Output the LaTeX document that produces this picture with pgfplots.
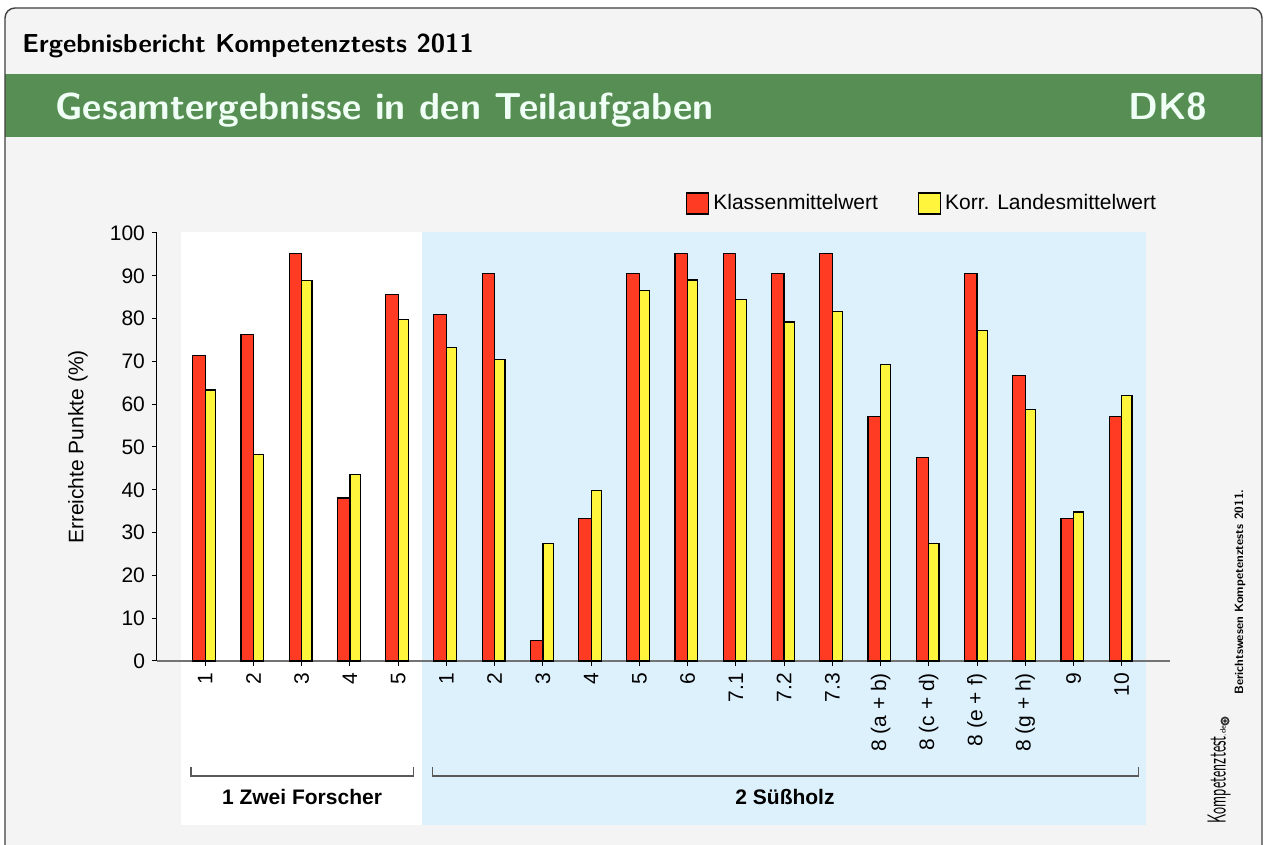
\documentclass[border=0pt]{standalone}
\usepackage{pgfplots}
\pgfplotsset{compat=1.18}
\usepackage{fontspec}
\setmainfont{Liberation Sans}
\definecolor{framebg}{RGB}{244,244,244}
\definecolor{bannergreen}{RGB}{86,142,83}
\definecolor{lightblue}{RGB}{221,241,253}
\definecolor{barred}{RGB}{255,59,36}
\definecolor{baryellow}{RGB}{255,245,60}
\definecolor{bannertext}{RGB}{240,255,245}
\newcommand{\fs}{\fontsize{10.5}{12.6}\selectfont}
\begin{document}
\begin{tikzpicture}
\clip (0,0) rectangle (633pt,422.5pt);
\fill[white] (0,0) rectangle (633pt,422.5pt);
\begin{scope}[x=0.5pt, y=-0.5pt, yshift=422.5pt]
  \fill[framebg, rounded corners=5pt] (5,8) rectangle (1262,900);
  \fill[bannergreen] (5,74) rectangle (1262,137);
  \draw[black!75, line width=0.7pt, rounded corners=5pt] (5,8) rectangle (1262,900);
  \node[anchor=base west, inner sep=0, font=\sffamily\bfseries\fontsize{13}{15}\selectfont] at (22,53) {Ergebnisbericht Kompetenztests 2011};
  \node[anchor=base west, inner sep=0, text=bannertext, font=\sffamily\bfseries\fontsize{18.8}{22}\selectfont] at (55,119.5) {Gesamtergebnisse in den Teilaufgaben};
  \node[anchor=base east, inner sep=0, text=bannertext, font=\sffamily\bfseries\fontsize{18.8}{22}\selectfont] at (1208,119.5) {DK8};
  % group backgrounds
  \fill[white] (181,232) rectangle (422.3,825);
  \fill[lightblue] (422.3,232) rectangle (1146,825);
  % brackets
  \draw[black!65, line width=0.6pt] (191,767) -- (191,776) -- (413.6,776) -- (413.6,767);
  \draw[black!65, line width=0.6pt] (432.5,767) -- (432.5,776) -- (1138.6,776) -- (1138.6,767);
  \node[anchor=base, inner sep=0, font=\bfseries\fs] at (302,805) {1 Zwei Forscher};
  \node[anchor=base, inner sep=0, font=\bfseries\fs] at (785,805) {2 Süßholz};
  % side texts
  \node[rotate=90, anchor=west, inner sep=0, font=\sffamily\bfseries\fontsize{6}{7}\selectfont] at (1240,695) {Berichtswesen Kompetenztests 2011.};
  \node[rotate=90, anchor=south west, inner sep=0] at (1231,824) {\scalebox{0.55}[1]{\sffamily\fontsize{13}{14}\selectfont Kompetenztest}\sffamily\fontsize{4}{5}\selectfont .de};
  \fill[black!80] (1225,721) circle (4.5);
  \draw[white, line width=0.3pt] (1225,721) circle (2.2);
\end{scope}
\begin{axis}[
  at={(78.5pt,92pt)}, anchor=south west,
  scale only axis, width=506.5pt, height=214pt,
  xmin=-1, xmax=20, ymin=0, ymax=100,
  axis x line*=bottom, axis y line*=left,
  x axis line style={-, draw=black!55, line width=0.75pt},
  y axis line style={-, draw=black, line width=0.5pt},
  xtick={0,...,19},
  xticklabels={1,2,3,4,5,1,2,3,4,5,6,7.1,7.2,7.3,8 (a + b),8 (c + d),8 (e + f),8 (g + h),9,10},
  x tick label style={rotate=90, anchor=east, font=\fs},
  ytick={0,10,...,100},
  y tick label style={font=\fs},
  tick align=outside, major tick length=2.5pt,
  tick style={black, line width=0.5pt},
  /pgf/number format/assume math mode=true,
  ylabel={Erreichte Punkte (\%)},
  ylabel style={at={(axis description cs:-0.0780,0.5)}, anchor=center, font=\fs},
  legend style={at={(axis description cs:0.522,1.069)}, anchor=west, draw=none, fill=none, font=\fs, legend columns=2, inner sep=0pt, /tikz/every even column/.append style={column sep=18pt}},
  legend image code/.code={\draw[#1, line width=0.6pt] (0pt,-5.25pt) rectangle (11pt,5.25pt);},
  clip=false,
]
\addplot[ybar, bar width=0.26, bar shift=-0.13, fill=barred, draw=black, line width=0.6pt] coordinates {
 (0,71.43) (1,76.19) (2,95.24) (3,38.10) (4,85.71)
 (5,80.95) (6,90.48) (7,4.76) (8,33.33) (9,90.48) (10,95.24) (11,95.24) (12,90.48) (13,95.24)
 (14,57.14) (15,47.62) (16,90.48) (17,66.67) (18,33.33) (19,57.14)};
\addlegendentry{Klassenmittelwert}
\addplot[ybar, bar width=0.213, bar shift=0.1065, fill=baryellow, draw=black, line width=0.6pt] coordinates {
 (0,63.3) (1,48.2) (2,88.9) (3,43.6) (4,79.8)
 (5,73.3) (6,70.5) (7,27.5) (8,39.8) (9,86.5) (10,89.0) (11,84.5) (12,79.2) (13,81.6)
 (14,69.2) (15,27.5) (16,77.2) (17,58.7) (18,34.8) (19,62.0)};
\addlegendentry{Korr. Landesmittelwert}
\end{axis}
\end{tikzpicture}
\end{document}
